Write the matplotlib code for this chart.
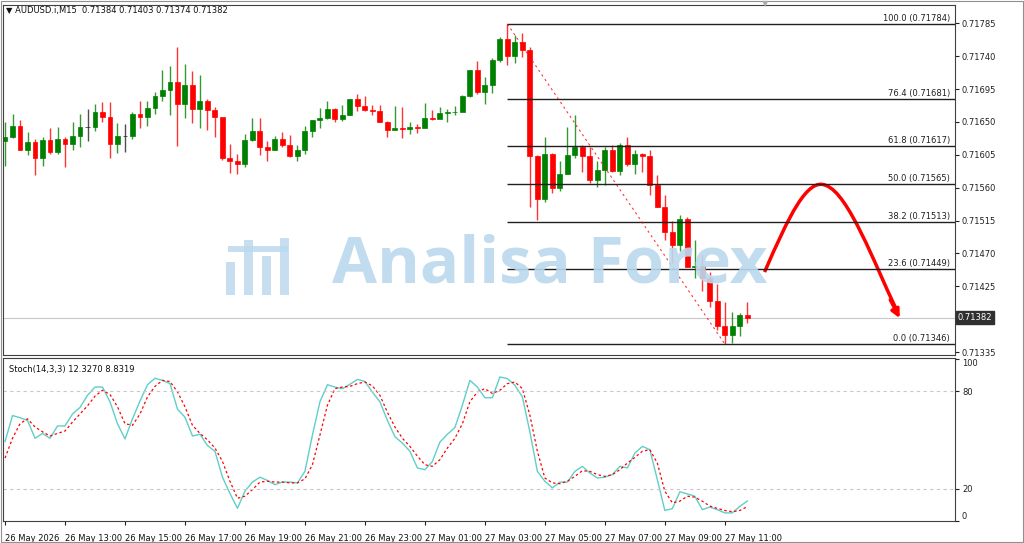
import matplotlib
matplotlib.use("Agg")
import matplotlib.pyplot as plt
from matplotlib.path import Path
from matplotlib.patches import PathPatch, FancyArrowPatch, Rectangle, Circle
import numpy as np

# ---- data (prices in units of 1e-5) ----
first_open = 71624
closes = [71629,71644,71612,71622,71600,71625,71609,71627,71620,71631,
          71643,71643,71663,71657,71620,71631,71631,71661,71657,71669,
          71686,71693,71704,71674,71701,71668,71679,71666,71657,71601,
          71597,71592,71625,71638,71616,71612,71626,71618,71603,71611,
          71638,71652,71655,71668,71654,71660,71681,71672,71666,71665,
          71650,71639,71641,71640,71643,71642,71655,71654,71662,71663,
          71664,71685,71721,71691,71700,71735,71763,71740,71759,71749,
          71603,71545,71606,71560,71579,71605,71615,71603,71571,71584,
          71611,71583,71619,71593,71606,71604,71564,71534,71499,71482,
          71517,71451,71453,71436,71405,71371,71358,71371,71386,71382]
highs = [71650,71661,71653,71636,71626,71629,71641,71643,71629,71650,
         71661,71668,71675,71677,71677,71649,71647,71663,71678,71679,
         71691,71721,71727,71752,71729,71720,71714,71682,71670,71656,
         71620,71606,71634,71656,71655,71624,71631,71636,71632,71618,
         71644,71652,71669,71679,71669,71673,71681,71688,71686,71673,
         71673,71651,71672,71670,71650,71647,71676,71666,71670,71667,
         71672,71687,71721,71733,71711,71738,71766,71784,71769,71772,
         71752,71605,71629,71607,71596,71643,71660,71619,71616,71596,
         71615,71619,71621,71629,71612,71608,71611,71577,71550,71514,
         71523,71520,71489,71468,71445,71428,71403,71390,71389,71403]
lows = [71589,71628,71612,71605,71577,71589,71606,71606,71588,71611,
        71615,71624,71638,71650,71601,71607,71609,71626,71641,71645,
        71661,71678,71660,71617,71656,71649,71641,71639,71630,71598,
        71580,71579,71588,71624,71605,71597,71611,71615,71602,71597,
        71606,71629,71642,71654,71650,71651,71660,71665,71665,71660,
        71650,71630,71641,71628,71633,71635,71650,71653,71655,71650,
        71660,71665,71684,71688,71674,71690,71732,71728,71730,71739,
        71534,71516,71540,71553,71555,71579,71601,71582,71567,71561,
        71564,71581,71577,71589,71579,71581,71550,71533,71489,71457,
        71473,71451,71437,71418,71397,71365,71346,71347,71357,71375]
stoch_k = [49,65,63.7,62,51,54,51,58.6,58.6,66,70,77.5,82.6,82.6,73.5,60,50.6,63,74,84,
           88,86.7,84.7,69,64,52.4,53.5,46.5,43,27,17,7.8,18.4,24,27,25,22.4,24,24,23.5,
           30.6,53,73.5,84,82.6,81.6,84.3,87.3,86,79.5,73.5,62,52,48,43,32.7,31.6,36.7,48.6,53.5,
           57.6,71.4,86.7,82.6,76,76,88.8,87.8,83.7,76.5,55,30.6,24.5,20.4,24,24,30.6,33.7,29.6,26.5,
           27,28.6,33.7,32.7,41.8,46,44,25.5,6.5,7.6,18,16.7,15.3,7,8.6,7,5,5,9,12.327]
stoch_d = [38.8,51,60,63,58,55,52.4,54,55.5,61,66,71,77,80.6,78,70.4,60,59,66,76.5,
           83,86.7,86,79.6,70.4,59,54,50,45,36.7,24.5,14,15.3,19.4,24,24.5,24,24,23.5,23.5,
           26,34.7,53,71.4,81.6,82.6,83,84.7,85.7,83.3,77.5,67,58,51,46,40,34.7,33.7,37.8,45,
           51,60,73.5,79.6,81.6,78.6,80.6,84.7,85.7,81.6,65.3,43,26.5,23.5,23,24.5,27.5,31,30.6,28.6,
           27.5,28.6,31.6,35.7,39.2,43,44,35.7,18.4,11.2,12.2,15.3,14.7,12.2,9.2,7.8,6.5,5.7,6.5,8.8319]
fib_levels = [100.0, 76.4, 61.8, 50.0, 38.2, 23.6, 0.0]
fib_prices = [0.71784, 0.71681, 0.71617, 0.71565, 0.71513, 0.71449, 0.71346]
price_ticks = [0.71785, 0.71740, 0.71695, 0.71650, 0.71605, 0.71560, 0.71515, 0.71470, 0.71425, 0.71335]
time_labels = ["26 May 2026", "26 May 13:00", "26 May 15:00", "26 May 17:00", "26 May 19:00",
               "26 May 21:00", "26 May 23:00", "27 May 01:00", "27 May 03:00", "27 May 05:00",
               "27 May 07:00", "27 May 09:00", "27 May 11:00"]
last_price = 0.71382

C = np.array(closes) / 1e5
H = np.array(highs) / 1e5
L = np.array(lows) / 1e5
O = np.concatenate([[first_open / 1e5], C[:-1]])
n = len(C)
x = np.arange(n)

W, Hh = 1024, 543
fig = plt.figure(figsize=(W / 100, Hh / 100), dpi=100)
fig.patch.set_facecolor("white")

def fx(px): return px / W
def fy(py): return 1 - py / Hh

ax = fig.add_axes([fx(3), fy(355), fx(955 - 3), (355 - 5) / Hh])
ax2 = fig.add_axes([fx(3), fy(521), fx(955 - 3), (521 - 358) / Hh])
xl = (-0.27, 126.7)

GREEN, RED = "#008000", "#ff0000"
for i in range(n):
    col = GREEN if C[i] > O[i] else (RED if C[i] < O[i] else "#222222")
    ax.vlines(x[i], L[i], H[i], color=col, lw=1, alpha=0.8)
    lo, hi = min(O[i], C[i]), max(O[i], C[i])
    ax.add_patch(Rectangle((x[i] - 0.33, lo), 0.66, max(hi - lo, 0.000004),
                           facecolor=col, edgecolor=col, lw=0.5))

ax.axhline(last_price, color="#c8c8c8", lw=0.8, zorder=0)

x0 = 67
for lev, p in zip(fib_levels, fib_prices):
    ax.hlines(p, x0, xl[1], color="#202020", lw=1.0)
    ax.text(xl[1] - 0.7, p + 0.000012, f"{lev:.1f} ({p:.5f})", ha="right", va="bottom",
            fontsize=6, color="#202020")
ax.plot([x0, 96], [fib_prices[0], fib_prices[-1]], color=RED, lw=0.8, ls=(0, (2, 3)), alpha=0.8)

verts = [(101.3, 0.714445), (104.5, 0.71520), (107, 0.71575), (109.5, 0.71563),
         (112.5, 0.71552), (116, 0.71455), (118.8, 0.71395)]
codes = [Path.MOVETO] + [Path.CURVE4] * 6
ax.add_patch(PathPatch(Path(verts, codes), fill=False, ec=RED, lw=2.5))
ax.add_patch(FancyArrowPatch((117.9, 0.71410), (119.5, 0.71378), arrowstyle="-|>",
                             mutation_scale=12, color=RED, lw=2.5))

ax.set_xlim(*xl)
ax.set_ylim(0.71331, 0.71810)
ax.yaxis.tick_right()
ax.set_yticks(price_ticks)
ax.set_yticklabels([f"{t:.5f}" for t in price_ticks], fontsize=6)
ax.tick_params(axis="y", length=3, pad=2, colors="#202020")
ax.set_xticks([])
for s in ax.spines.values():
    s.set_color("#404040"); s.set_linewidth(0.8)

ax.annotate(f"{last_price:.5f}", xy=(1.0, last_price), xycoords=("axes fraction", "data"),
            xytext=(2, 0), textcoords="offset points", ha="left", va="center", fontsize=6,
            color="white", bbox=dict(boxstyle="square,pad=0.25", fc="#303030", ec="#303030"))

fig.text(fx(6), fy(11), "\u25BC AUDUSD.i,M15  0.71384 0.71403 0.71374 0.71382", fontsize=6,
         va="center", ha="left", color="#101010", family=["DejaVu Sans"])
fig.text(fx(765), fy(4), "\u25BC", fontsize=6, color="#aaaaaa", ha="center", va="center")

# watermark
fig.text(fx(550), fy(266), "Analisa Forex", fontsize=47, fontweight="bold",
         color="#bcd9ee", alpha=0.9, ha="center", va="center", family="Open Sans", zorder=10)
for (bx, by, bw, bh) in [(226, 262, 9, 33), (244, 240, 9, 55), (262, 256, 9, 39), (280, 238, 9, 57)]:
    fig.patches.append(Rectangle((fx(bx), fy(by + bh)), fx(bw), bh / Hh, transform=fig.transFigure,
                                 fc="#bcd9ee", ec="none", alpha=0.85, zorder=10))
fig.patches.append(Rectangle((fx(228), fy(252)), fx(60), 6 / Hh, transform=fig.transFigure,
                             fc="#bcd9ee", ec="none", alpha=0.85, zorder=10))

# stochastic
ax2.plot(x, stoch_k, color="#5fcfc9", lw=1.0)
ax2.plot(x, stoch_d, color=RED, lw=0.9, ls=(0, (2, 2)))
for lv in (20, 80):
    ax2.axhline(lv, color="#c8c8c8", lw=0.8, ls=(0, (3, 3)))
ax2.set_xlim(*xl)
ax2.set_ylim(0.5, 100.5)
ax2.yaxis.tick_right()
ax2.set_yticks([0, 20, 80, 100])
ax2.set_yticklabels(["0", "20", "80", "100"], fontsize=6)
ax2.tick_params(axis="y", length=3, pad=2, colors="#202020")
lbls = ax2.get_yticklabels()
lbls[3].set_va("top"); lbls[0].set_va("bottom")
tick_pos = np.arange(0, 8 * len(time_labels), 8)
ax2.set_xticks(tick_pos)
ax2.set_xticklabels([])
ax2.tick_params(axis="x", length=3, direction="out", colors="#202020")
for tp, lab in zip(tick_pos, time_labels):
    ax2.text(tp, -8, lab, fontsize=6, ha="left", va="top", color="#101010", clip_on=False)
for s in ax2.spines.values():
    s.set_color("#404040"); s.set_linewidth(0.8)
ax2.text(0.5, 96, "Stoch(14,3,3) 12.3270 8.8319", fontsize=6, ha="left", va="top", color="#101010")

fig.patches.append(Rectangle((0.001, 0.001), 0.998, 0.998, transform=fig.transFigure,
                             fill=False, ec="#909090", lw=0.8))
fig.savefig("out.png", dpi=100)
